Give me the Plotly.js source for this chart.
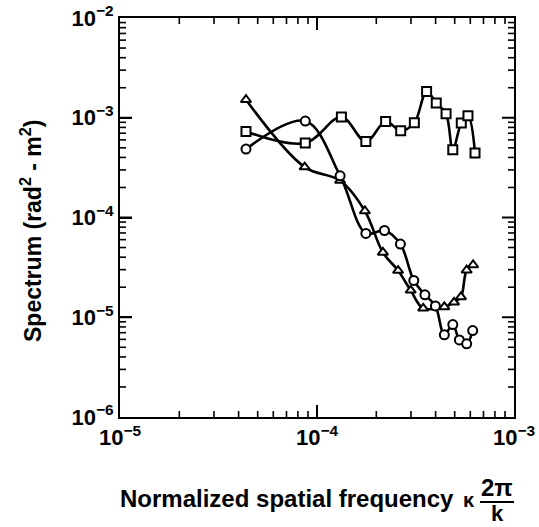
<!DOCTYPE html>
<html>
<head>
<meta charset="utf-8">
<script src="https://cdn.plot.ly/plotly-3.0.1.min.js"></script>
<style>html,body{margin:0;padding:0;background:#fff;}#chart{width:539px;height:527px;}</style>
</head>
<body>
<div id="chart"></div>
<script>
// Series (log-log spectrum)
var squareX = [4.36e-5, 8.72e-5, 1.33e-4, 1.77e-4, 2.23e-4, 2.66e-4, 3.12e-4, 3.60e-4, 4.03e-4, 4.52e-4, 4.89e-4, 5.40e-4, 5.84e-4, 6.34e-4];
var squareY = [7.29e-4, 5.57e-4, 1.016e-3, 5.78e-4, 9.18e-4, 7.41e-4, 8.91e-4, 1.835e-3, 1.404e-3, 1.097e-3, 4.78e-4, 8.85e-4, 1.047e-3, 4.43e-4];

var circleX = [4.36e-5, 8.72e-5, 1.31e-4, 1.77e-4, 2.20e-4, 2.65e-4, 3.10e-4, 3.53e-4, 3.99e-4, 4.43e-4, 4.89e-4, 5.28e-4, 5.75e-4, 6.17e-4];
var circleY = [4.85e-4, 9.27e-4, 2.62e-4, 6.92e-5, 7.41e-5, 5.41e-5, 2.34e-5, 1.68e-5, 1.30e-5, 6.66e-6, 8.45e-6, 5.93e-6, 5.41e-6, 7.36e-6];

var triangleX = [4.36e-5, 8.66e-5, 1.31e-4, 1.75e-4, 2.16e-4, 2.58e-4, 2.99e-4, 3.46e-4, 4.43e-4, 4.96e-4, 5.38e-4, 5.75e-4, 6.20e-4];
var triangleY = [1.515e-3, 3.20e-4, 2.35e-4, 1.162e-4, 4.46e-5, 2.94e-5, 1.86e-5, 1.23e-5, 1.27e-5, 1.41e-5, 1.60e-5, 2.96e-5, 3.34e-5];

var xTickVals = [1e-5, 1e-4, 1e-3];
var xTickText = ['10<sup>\u22125</sup>', '10<sup>\u22124</sup>', '10<sup>\u22123</sup>'];
var yTickVals = [1e-6, 1e-5, 1e-4, 1e-3, 1e-2];
var yTickText = ['10<sup>\u22126</sup>', '10<sup>\u22125</sup>', '10<sup>\u22124</sup>', '10<sup>\u22123</sup>', '10<sup>\u22122</sup>'];

var FONT = 'Liberation Sans, Arial, Helvetica, sans-serif';

function series(x, y, symbol) {
  return {
    x: x, y: y, type: 'scatter', mode: 'lines+markers',
    line: {color: '#000', width: 2.6, shape: 'spline', smoothing: 1},
    marker: {symbol: symbol, size: 9, color: '#fff', line: {color: '#000', width: 2}},
    hoverinfo: 'skip', showlegend: false, cliponaxis: false
  };
}

var data = [
  series(triangleX, triangleY, 'triangle-up'),
  series(squareX, squareY, 'square'),
  series(circleX, circleY, 'circle')
];

// plot area in pixels: x 120..514, y 18..417
var L = 120, R = 514, T = 18, B = 417;
function px(x) { return (x - L) / (R - L); }
function py(y) { return (B - y) / (B - T); }

// Tick marks on all four sides as small filled rectangles (paper coords)
var shapes = [];
function rect(x0, x1, y0, y1) {
  shapes.push({type: 'rect', xref: 'paper', yref: 'paper', x0: x0, x1: x1, y0: y0, y1: y1,
               fillcolor: '#000', line: {width: 0}, layer: 'above'});
}
function addTicks(lo, hi, isX) {
  var W = R - L, H = B - T;
  for (var e = lo; e <= hi; e++) {
    for (var m = 1; m <= 9; m++) {
      if (e === hi && m > 1) break;
      if (m === 1 && (e === lo || e === hi)) continue;
      var f = (Math.log10(m * Math.pow(10, e)) - lo) / (hi - lo);
      var len = (m === 1) ? 12 : 6, th = (m === 1) ? 2 : 1.6;
      if (isX) {
        var hw = th / 2 / W;
        rect(f - hw, f + hw, 0, len / H);
        rect(f - hw, f + hw, 1 - len / H, 1);
      } else {
        var hh = th / 2 / H;
        rect(0, len / W, f - hh, f + hh);
        rect(1 - len / W, 1, f - hh, f + hh);
      }
    }
  }
}
addTicks(-5, -3, true);
addTicks(-6, -2, false);
// fraction bar of the x-axis title
rect(px(480), px(514), py(503), py(501));

function axis(range, vals, text) {
  return {
    type: 'log', range: range, showgrid: false, zeroline: false,
    showline: true, linecolor: '#000', linewidth: 2, mirror: true,
    ticks: 'inside', ticklen: 12, tickwidth: 2, tickcolor: '#000',
    tickmode: 'array', tickvals: vals, ticktext: text,
    tickfont: {family: FONT, size: 22, color: '#000', weight: 'bold'}
  };
}

var TF = {family: FONT, size: 24, color: '#000', weight: 'bold'};

var layout = {
  width: 539, height: 527,
  margin: {l: L, r: 539 - R, t: T, b: 527 - B, pad: 0},
  paper_bgcolor: '#fff', plot_bgcolor: '#fff',
  font: {family: FONT, color: '#000'},
  xaxis: axis([-5, -3], xTickVals, xTickText),
  yaxis: axis([-6, -2], yTickVals, yTickText),
  annotations: [
    {xref: 'paper', yref: 'paper', x: px(31), y: py(231), textangle: -90,
     text: 'Spectrum (rad<sup>2</sup> - m<sup>2</sup>)', showarrow: false,
     xanchor: 'center', yanchor: 'middle', font: {family: FONT, size: 23, color: '#000', weight: 'bold'}},
    {xref: 'paper', yref: 'paper', x: px(118), y: py(499),
     text: 'Normalized spatial frequency', showarrow: false,
     xanchor: 'left', yanchor: 'middle', font: TF},
    {xref: 'paper', yref: 'paper', x: px(469), y: py(500),
     text: '\u03ba', showarrow: false, xanchor: 'center', yanchor: 'middle',
     font: {family: FONT, size: 20, color: '#000', weight: 'bold'}},
    {xref: 'paper', yref: 'paper', x: px(497), y: py(487),
     text: '2\u03c0', showarrow: false, xanchor: 'center', yanchor: 'middle', font: TF},
    {xref: 'paper', yref: 'paper', x: px(497), y: py(513),
     text: 'k', showarrow: false, xanchor: 'center', yanchor: 'middle',
     font: {family: FONT, size: 22, color: '#000', weight: 'bold'}}
  ],
  shapes: shapes
};

Plotly.newPlot('chart', data, layout, {displayModeBar: false, staticPlot: true});
</script>
</body>
</html>
